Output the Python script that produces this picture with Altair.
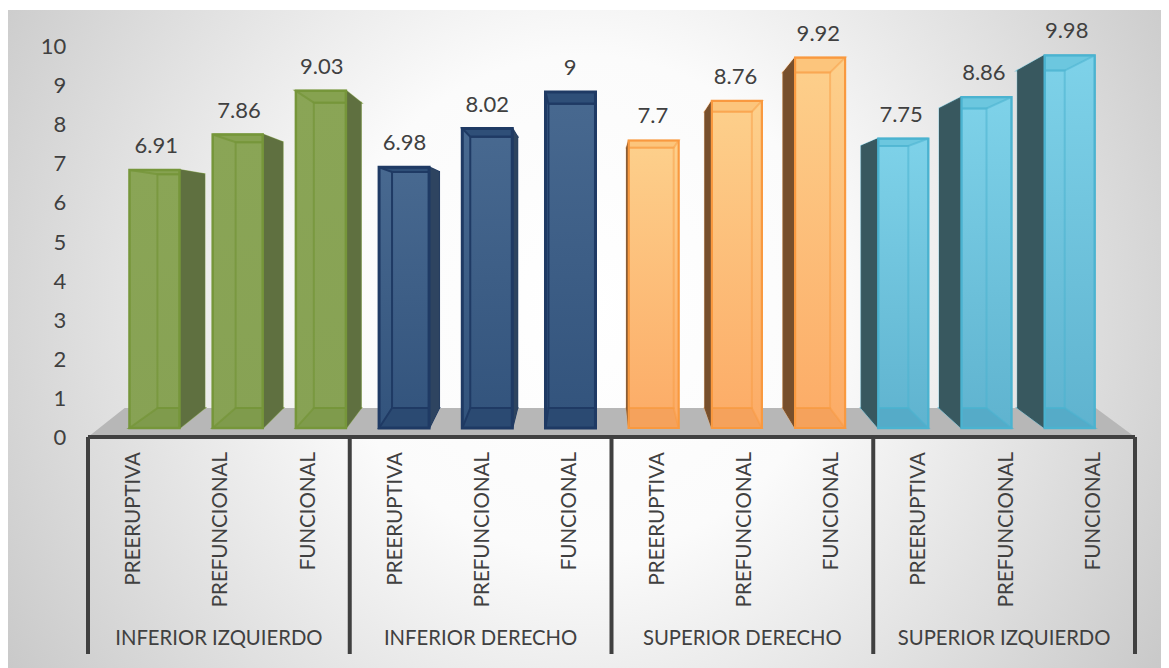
import altair as alt
import pandas as pd

groups = ["INFERIOR IZQUIERDO", "INFERIOR DERECHO", "SUPERIOR DERECHO", "SUPERIOR IZQUIERDO"]
stages = ["PREERUPTIVA", "PREFUNCIONAL", "FUNCIONAL"]
values = [6.91, 7.86, 9.03, 6.98, 8.02, 9, 7.7, 8.76, 9.92, 7.75, 8.86, 9.98]
y_ticks = list(range(0, 11))

faces = ["#87a254", "#32537c", "#fcab66", "#5fb3cf"]
faces_top = ["#8aa556", "#486990", "#fdd08c", "#7ed2e9"]
edges = ["#76963a", "#1f3a64", "#f9993f", "#4bb3d0"]
bottoms = ["#7f9b4c", "#2b4a72", "#f5a25c", "#55abc8"]
sides = ["#5f7040", "#2e4460", "#774f2c", "#38585f"]
tops = ["#86a250", "#2f4f78", "#fcc57c", "#6cc7df"]
back_alpha = [0.75, 1, 0.45, 0.55]
front_width = [2.5, 3, 2.2, 2.4]
ink = "#404040"
FONT = "Lato"

W, H = 1153, 660
PX_CAT, PX_UNIT = 87.25, 39.1
X0, Y0 = 80, 429
xscale = alt.Scale(domain=[-X0 / PX_CAT, (W - X0) / PX_CAT], range=[0, W], nice=False, zero=False)
yscale = alt.Scale(domain=[(Y0 - H) / PX_UNIT, Y0 / PX_UNIT], range=[H, 0], nice=False, zero=False)
X = alt.X("x:Q", scale=xscale, axis=None)
Y = alt.Y("y:Q", scale=yscale, axis=None)

# perspective of the pseudo-3D box, in axis units
F_BASE, F_GAIN = 0.23, 0.955
B_BASE, B_GAIN = 0.74, 0.865
C0, PITCH, HALF = 5.53, 0.9536, 0.2865
VP, K = 5.811, 0.94


def back(x):
    return VP + (x - VP) * K


rows = []
for i, v in enumerate(values):
    c = C0 + PITCH * (i - 5)
    rows.append(dict(i=i, g=i // 3, v=v, c=c, fl=c - HALF, fr=c + HALF,
                     bl=back(c - HALF), br=back(c + HALF),
                     ft=F_BASE + F_GAIN * v, bt=B_BASE + B_GAIN * v,
                     label=str(v)))
bars = pd.DataFrame(rows)

layers = []
bg = alt.Chart(pd.DataFrame({"a": [0]})).mark_rect(
    fill=alt.RadialGradient(gradient="radial", x1=0.5, y1=0.47, x2=0.5, y2=0.47, r1=0, r2=0.72,
                            stops=[alt.GradientStop(offset=0, color="#ffffff"),
                                   alt.GradientStop(offset=0.3, color="#fbfbfb"),
                                   alt.GradientStop(offset=1, color="#b8b8b8")])
).encode(x=alt.value(0), x2=alt.value(W), y=alt.value(2), y2=alt.value(H))
layers.append(bg)

floor = pd.DataFrame({"y": [0.0, B_BASE], "x": [0.0, 0.42], "x2": [12.0, 11.55]})
layers.append(alt.Chart(floor).mark_area(orient="horizontal", color="#b7b7b7").encode(
    y=Y, x=X, x2=alt.X2("x2")))

for g in range(4):
    d = bars[bars.g == g]
    st = dict(stroke=edges[g], strokeWidth=2, strokeOpacity=back_alpha[g])
    bot, top, side = [], [], []
    for _, r in d.iterrows():
        bot += [dict(b=r.i, y=F_BASE, x=r.fl, x2=r.fr), dict(b=r.i, y=B_BASE, x=r.bl, x2=r.br)]
        top += [dict(b=r.i, y=r.ft, x=r.fl, x2=r.fr), dict(b=r.i, y=r.bt, x=r.bl, x2=r.br)]
        if r.i <= 5:
            side += [dict(b=r.i, x=r.fr, y=r.ft, y2=F_BASE), dict(b=r.i, x=r.br, y=r.bt, y2=B_BASE)]
        else:
            side += [dict(b=r.i, x=r.bl, y=r.bt, y2=B_BASE), dict(b=r.i, x=r.fl, y=r.ft, y2=F_BASE)]
    back_df = d.assign(x=d.bl, x2=d.br, y=d.bt, y2=B_BASE)
    front_df = d.assign(x=d.fl, x2=d.fr, y=d.ft, y2=F_BASE)
    layers.append(alt.Chart(front_df).mark_rect(
        fill=alt.LinearGradient(gradient="linear", x1=0, y1=0, x2=0, y2=1,
                                stops=[alt.GradientStop(offset=0, color=faces_top[g]),
                                       alt.GradientStop(offset=1, color=faces[g])])
    ).encode(x=X, x2=alt.X2("x2"), y=Y, y2=alt.Y2("y2")))
    layers.append(alt.Chart(pd.DataFrame(top)).mark_area(
        orient="horizontal", color=tops[g], **st).encode(
        y=Y, x=X, x2=alt.X2("x2"), detail="b:N"))
    layers.append(alt.Chart(pd.DataFrame(bot)).mark_area(
        orient="horizontal", color=bottoms[g], **st).encode(
        y=Y, x=X, x2=alt.X2("x2"), detail="b:N"))
    layers.append(alt.Chart(back_df).mark_rect(fillOpacity=0, **st).encode(
        x=X, x2=alt.X2("x2"), y=Y, y2=alt.Y2("y2")))
    layers.append(alt.Chart(pd.DataFrame(side)).mark_area(
        color=sides[g], stroke=sides[g], strokeWidth=1).encode(
        x=X, y=Y, y2=alt.Y2("y2"), detail="b:N"))
    layers.append(alt.Chart(front_df).mark_rect(
        fillOpacity=0, stroke=edges[g], strokeWidth=front_width[g]).encode(
        x=X, x2=alt.X2("x2"), y=Y, y2=alt.Y2("y2")))

# axis lines
layers.append(alt.Chart(pd.DataFrame({"x": [0.0], "x2": [12.0], "y": [0.0]})).mark_rule(
    color=ink, strokeWidth=4).encode(x=X, x2=alt.X2("x2"), y=Y))
seps = pd.DataFrame({"x": [0.0, 3.0, 6.0, 9.0, 12.0], "y": [0.0] * 5, "y2": [-5.55] * 5})
layers.append(alt.Chart(seps).mark_rule(color=ink, strokeWidth=4).encode(x=X, y=Y, y2=alt.Y2("y2")))

# text
txt = dict(font=FONT, color=ink)
layers.append(alt.Chart(bars.assign(x=bars.c - 0.005 * (bars.i - 4), y=bars.ft)).mark_text(
    fontSize=22, dy=-24, baseline="middle", align="center", **txt).encode(x=X, y=Y, text="label:N"))
layers.append(alt.Chart(pd.DataFrame({"t": y_ticks, "y": y_ticks, "x": [-0.25] * 11})).mark_text(
    fontSize=22, dy=1, align="right", baseline="middle", **txt).encode(x=X, y=Y, text="t:N"))
cat = pd.DataFrame({"t": stages * 4, "x": [i + 0.53 for i in range(12)], "y": [-0.384] * 12})
layers.append(alt.Chart(cat).mark_text(
    fontSize=20.5, angle=270, align="right", baseline="middle", **txt).encode(x=X, y=Y, text="t:N"))
grp = pd.DataFrame({"t": groups, "x": [1.5, 4.5, 7.5, 10.5], "y": [-5.14] * 4})
layers.append(alt.Chart(grp).mark_text(
    fontSize=20.3, dy=1, align="center", baseline="middle", **txt).encode(x=X, y=Y, text="t:N"))

chart = alt.layer(*layers).properties(
    width=W, height=H, padding=0, autosize=alt.AutoSizeParams(type="none"),
    background="white"
).configure_view(stroke=None)

chart.save("out.html", embed_options={"renderer": "svg", "actions": False})
